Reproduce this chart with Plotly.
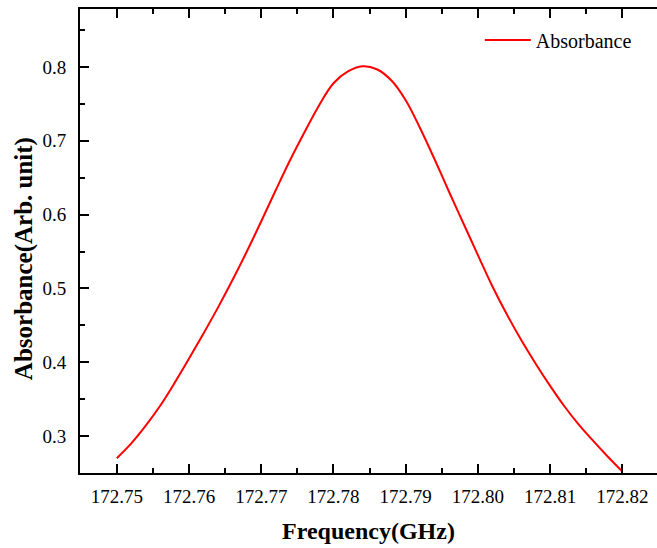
import plotly.graph_objects as go

freq = [172.750, 172.752, 172.754, 172.756, 172.758, 172.760, 172.762, 172.764,
        172.766, 172.768, 172.770, 172.772, 172.774, 172.776, 172.778, 172.780,
        172.782, 172.784, 172.786, 172.788, 172.790, 172.792, 172.794, 172.796,
        172.798, 172.800, 172.802, 172.804, 172.806, 172.808, 172.810, 172.812,
        172.814, 172.816, 172.818, 172.820]
absorb = [0.270, 0.290, 0.314, 0.341, 0.372, 0.405, 0.439, 0.474,
          0.511, 0.550, 0.591, 0.633, 0.674, 0.712, 0.748, 0.778,
          0.794, 0.801, 0.797, 0.782, 0.755, 0.717, 0.675, 0.631,
          0.588, 0.545, 0.503, 0.465, 0.430, 0.398, 0.368, 0.340,
          0.315, 0.293, 0.272, 0.252]
xticks = [172.75, 172.76, 172.77, 172.78, 172.79, 172.80, 172.81, 172.82]
xticklabels = ["172.75", "172.76", "172.77", "172.78", "172.79", "172.80", "172.81", "172.82"]
yticks = [0.3, 0.4, 0.5, 0.6, 0.7, 0.8]
yticklabels = ["0.3", "0.4", "0.5", "0.6", "0.7", "0.8"]

FONT = "Liberation Serif, Times New Roman, serif"

fig = go.Figure()
fig.add_trace(go.Scatter(x=freq, y=absorb, mode="lines", name="Absorbance",
                         line=dict(color="#ff0000", width=2, shape="spline", smoothing=1.0)))

fig.update_layout(
    width=657, height=548,
    margin=dict(l=80, r=0, t=9, b=75),
    paper_bgcolor="white", plot_bgcolor="white",
    font=dict(family=FONT, size=19, color="black"),
    showlegend=True,
    legend=dict(x=0.693, y=0.933, xanchor="left", yanchor="middle",
                bgcolor="rgba(0,0,0,0)", font=dict(size=20, family=FONT),
                itemwidth=46),
    xaxis=dict(
        range=[172.7449, 172.8248], tickvals=xticks, ticktext=xticklabels,
        showgrid=False, zeroline=False,
        showline=True, linecolor="black", linewidth=2, mirror="allticks",
        ticks="inside", ticklen=9, tickwidth=2, tickcolor="black",
        minor=dict(dtick=0.005, tick0=172.745, ticks="inside", ticklen=5, tickwidth=1.5, tickcolor="black", showgrid=False),
        tickfont=dict(size=19, family=FONT),
        ticklabelstandoff=5,
        title=dict(text="<b>Frequency(GHz)</b>", font=dict(size=24, family=FONT), standoff=16),
    ),
    yaxis=dict(
        range=[0.2499, 0.8786], tickvals=yticks, ticktext=yticklabels,
        showgrid=False, zeroline=False,
        showline=True, linecolor="black", linewidth=2,
        ticks="inside", ticklen=9, tickwidth=2, tickcolor="black",
        minor=dict(dtick=0.05, tick0=0.25, ticks="inside", ticklen=5, tickwidth=1.5, tickcolor="black", showgrid=False),
        tickfont=dict(size=19, family=FONT),
        ticklabelstandoff=8,
    ),
    annotations=[dict(
        text="<b>Absorbance(Arb. unit)</b>", textangle=-90,
        xref="paper", yref="paper", x=-0.097, y=0.461,
        xanchor="center", yanchor="middle", showarrow=False,
        font=dict(size=25, family=FONT, color="black"),
    )],
)

fig.write_html("out.html")
